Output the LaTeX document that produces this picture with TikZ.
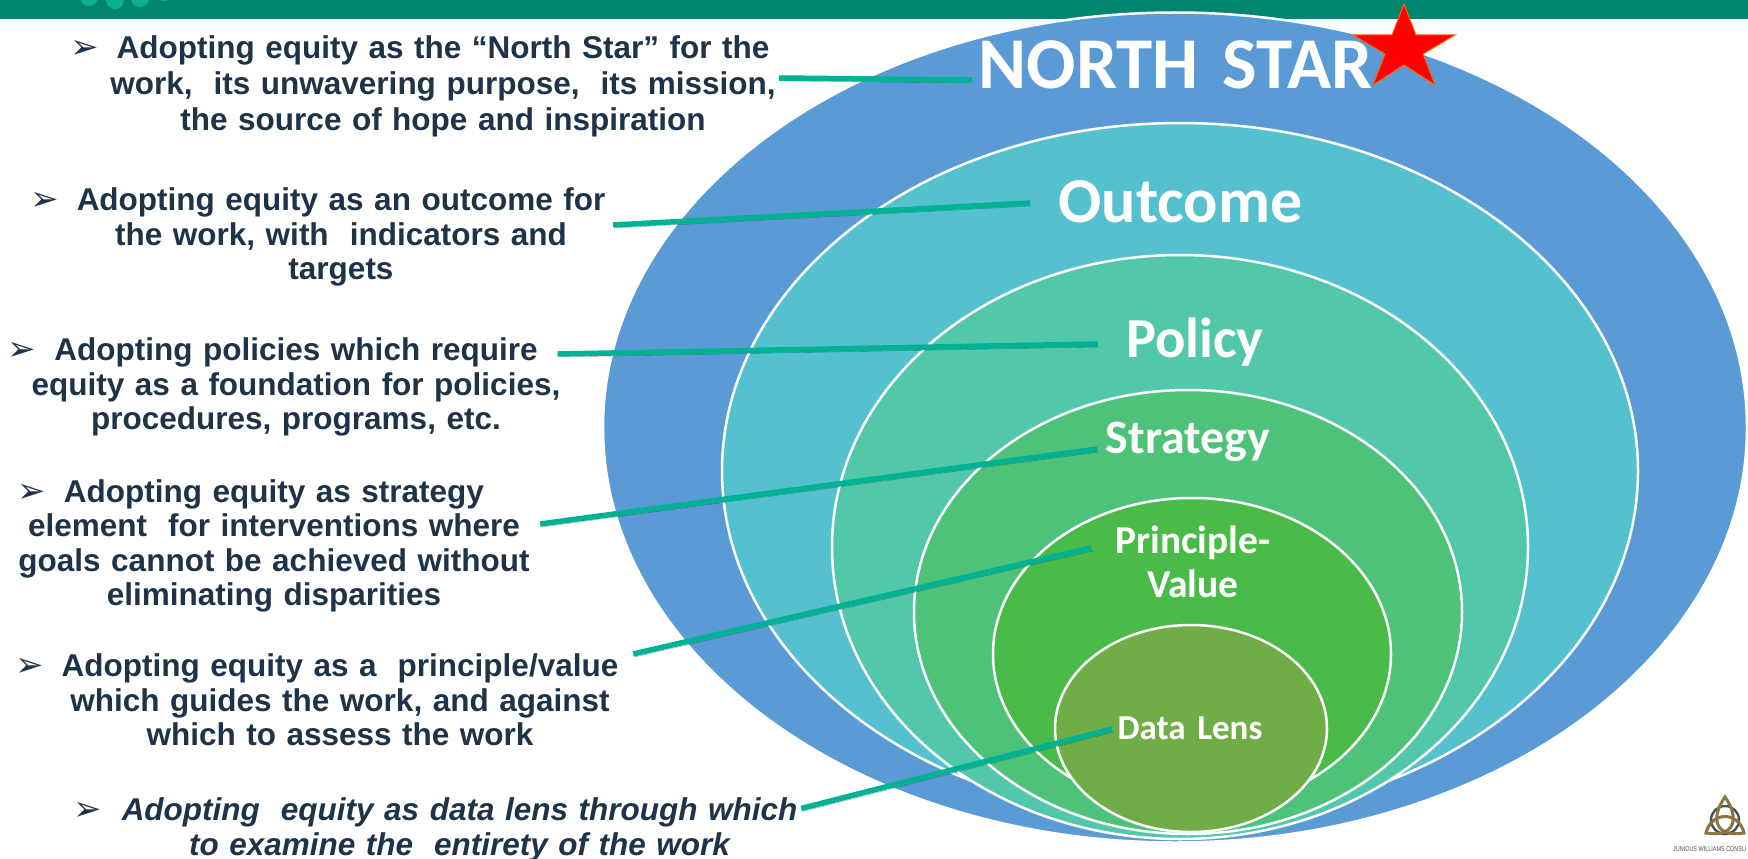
\documentclass[tikz,border=0pt]{standalone}
\usepackage{fontspec}
\setmainfont{Liberation Sans}
\newfontfamily\labfont[WordSpace=0.75]{Carlito}
\newfontfamily\bulfont{DejaVu Sans}
\definecolor{band}{HTML}{00856F}
\definecolor{dotc}{HTML}{0DB08F}
\definecolor{ell1}{HTML}{5B9BD5}
\definecolor{ell2}{HTML}{55C1CF}
\definecolor{ell3}{HTML}{52C7A9}
\definecolor{ell4}{HTML}{4EC278}
\definecolor{ell5}{HTML}{4ABB48}
\definecolor{ell6}{HTML}{70AD47}
\definecolor{connc}{HTML}{00B294}
\definecolor{ink}{HTML}{1F3348}
\definecolor{gold}{HTML}{8C7440}
\definecolor{ringc}{HTML}{44545A}
\tikzset{
  x=1pt,y=-1pt,
  oval/.style={fill=#1,draw=white,line width=2.5pt},
  para/.style={inner sep=0pt,align=center,text=ink,font=\bfseries\fontsize{31.5}{34.5}\selectfont},
  lab/.style={inner sep=0pt,align=center,text=white},
  conn/.style={draw=connc,line width=5.5pt,
    preaction={draw=black,draw opacity=.35,transform canvas={shift={(1.5pt,-3pt)}}}},
}
\newcommand{\bul}[1]{\leavevmode\llap{{\bulfont\mdseries\upshape\fontsize{34}{30}\selectfont ➢}\hspace{#1pt}}}
\begin{document}
\begin{tikzpicture}
\useasboundingbox (0,0) rectangle (1748,859);
\clip (0,0) rectangle (1748,859);
\fill[band] (0,0) rectangle (1748,19);
\fill[dotc] (89,-3) circle[radius=9] (115,0) circle[radius=9] (140,-2) circle[radius=9] (164,-8) circle[radius=9];

\draw[oval=ell1] (1175,427.5) ellipse[x radius=572,y radius=415];
\draw[oval=ell2] (1180,471) ellipse[x radius=458,y radius=348];
\draw[oval=ell3] (1180,547) ellipse[x radius=348,y radius=292];
\draw[oval=ell4] (1188,612) ellipse[x radius=274,y radius=222];
\draw[oval=ell5] (1192,654) ellipse[x radius=199,y radius=156];
\draw[oval=ell6] (1191,728.5) ellipse[x radius=136,y radius=103.5];

\draw[fill=red,draw=orange!80!red,line width=1pt]
  (1404,4) -- (1416,35) -- (1455,35) -- (1423,54) -- (1435,85) -- (1404,65)
  -- (1373,85) -- (1385,54) -- (1353,35) -- (1392,35) -- cycle;

\node[lab,text width=427pt,font=\labfont\bfseries\fontsize{73}{73}\selectfont] (l1) at (1175.5,65) {NORTH STAR};
\node[lab,text width=243pt,font=\labfont\bfseries\fontsize{64}{64}\selectfont] (l2) at (1180,202) {Outcome};
\node[lab,text width=136pt,font=\labfont\bfseries\fontsize{56.5}{56.5}\selectfont] (l3) at (1194,342) {Policy};
\node[lab,text width=165pt,font=\labfont\bfseries\fontsize{48}{48}\selectfont] (l4) at (1188,442) {Strategy};
\node[lab,text width=157pt,font=\labfont\bfseries\fontsize{39.5}{44}\selectfont] (l5) at (1193,562) {Principle-\\Value};
\node[lab,text width=165pt,font=\labfont\bfseries\fontsize{35}{35}\selectfont] (l6) at (1190,728) {Data Lens};

\node[para,text width=704pt,font=\bfseries\fontsize{31.5}{36}\selectfont] (t1) at (443,86) {\bul{18}Adopting equity as the “North Star” for the\\work,\ \ its unwavering purpose,\ \ its mission,\\the source of hope and inspiration};
\node[para,text width=568pt] (t2) at (341,237) {\bul{18}Adopting equity as an outcome for\\the work, with\ \ indicators and\\targets};
\node[para,text width=569pt] (t3) at (296,387) {\bul{18}Adopting policies which require\\equity as a foundation for policies,\\procedures, programs, etc.};
\node[para,text width=554pt] (t4) at (274,546) {\bul{18}Adopting equity as strategy\\element\ \ for interventions where\\goals cannot be achieved without\\eliminating disparities};
\node[para,text width=598pt] (t5) at (340,700) {\bul{18}Adopting equity as a\ \ principle/value\\which guides the work, and against\\which to assess the work};
\node[para,text width=716pt,font=\bfseries\itshape\fontsize{31.5}{35}\selectfont] (t6) at (459.5,829.5) {\bul{20}Adopting\ \ equity as data lens through which\\to examine the\ \ entirety of the work};

\draw[conn] ([xshift=-16pt,yshift=8pt]t1.east) -- ([xshift=10pt,yshift=-15pt]l1.west);
\draw[conn] ([xshift=-12pt,yshift=12pt]t2.east) -- ([xshift=-28pt,yshift=-1pt]l2.west);
\draw[conn] ([xshift=-23pt,yshift=33pt]t3.east) -- ([xshift=-28pt,yshift=-2pt]l3.west);
\draw[conn] ([xshift=-11pt,yshift=22pt]t4.east) -- ([xshift=-8pt,yshift=-7pt]l4.west);
\draw[conn] ([xshift=-6pt,yshift=46pt]t5.east) -- ([xshift=-23pt,yshift=14pt]l5.west);
\draw[conn] ([xshift=-16.5pt,yshift=21pt]t6.east) -- ([xshift=5pt,yshift=-1pt]l6.west);

\draw[ringc,line width=2.4pt] (1725,820) circle[radius=14];
\draw[gold,line width=3pt,line join=miter]
  (1725,797) .. controls (1710,818) and (1715,838) .. (1744,833)
  .. controls (1739,811) and (1711,811) .. (1706,833)
  .. controls (1735,838) and (1740,818) .. cycle;
\node[inner sep=0pt,anchor=west,text=black!70,xscale=.78,transform shape,font=\fontsize{7}{8}\selectfont] (logo) at (1673,849) {JUNIOUS WILLIAMS CONSU};
\end{tikzpicture}
\end{document}
